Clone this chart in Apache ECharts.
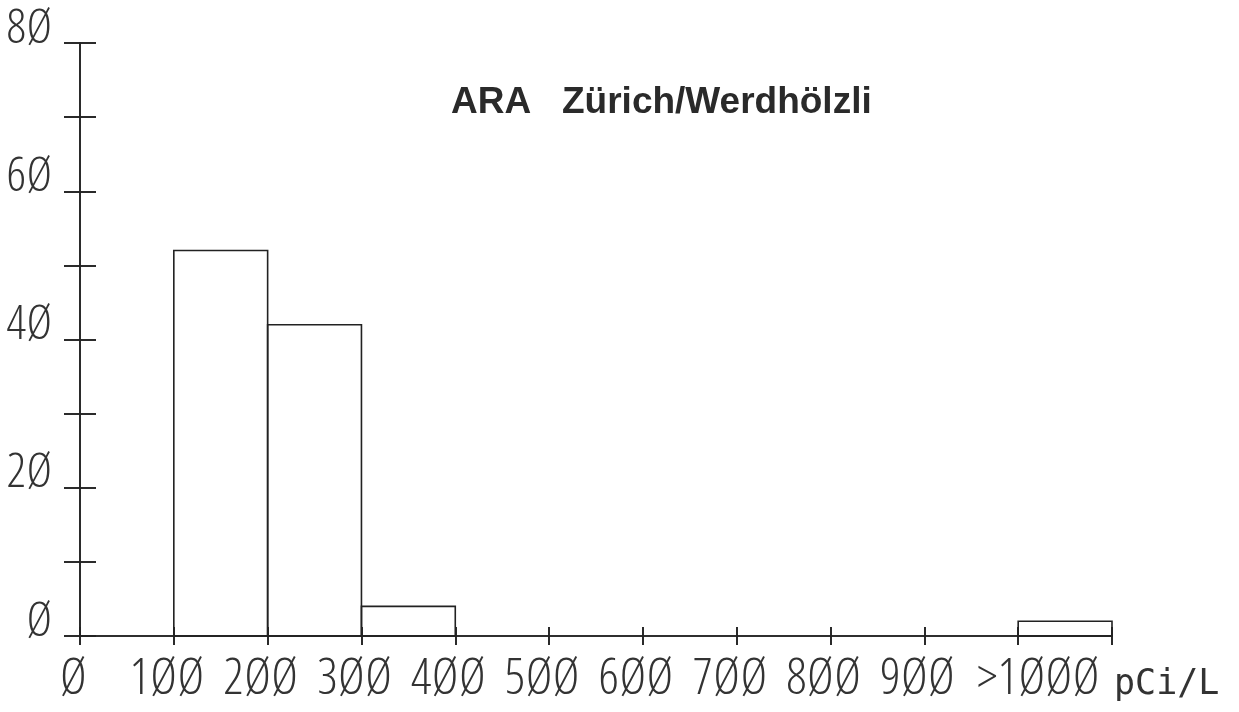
<!DOCTYPE html>
<html><head><meta charset="utf-8">
<script src="https://cdn.jsdelivr.net/npm/echarts@6/dist/echarts.min.js"></script>
<style>html,body{margin:0;padding:0;background:#fff}#c{width:1239px;height:712px}</style>
</head><body><div id="c"></div>
<script>
const binStarts = [0, 100, 200, 300, 400, 500, 600, 700, 800, 900, 1000];
const binEnds   = [100, 200, 300, 400, 500, 600, 700, 800, 900, 1000, 1100];
const counts    = [0, 52, 42, 4, 0, 0, 0, 0, 0, 0, 2];
const xTickLabels = ["Ø", "1ØØ", "2ØØ", "3ØØ", "4ØØ", "5ØØ", "6ØØ", "7ØØ", "8ØØ", "9ØØ", ">1ØØØ", ""];
const yTickLabels = ["Ø", "", "2Ø", "", "4Ø", "", "6Ø", "", "8Ø"];
const titleText = "ARA   Zürich/Werdhölzli";
const unitLabel = "pCi/L";

const ink = '#222';
const txt = '#333';
const labelFont = "'Open Sans', 'Noto Sans', sans-serif";
const labelWeight = "300 condensed";
const X_MIN = 0, X_MAX = 1100, X_STEP = 100;
const Y_MIN = 0, Y_MAX = 80, Y_STEP = 10;

function xAx(pos, inside, withLabels) {
  const a = {
    type: 'value', position: pos, min: X_MIN, max: X_MAX, interval: X_STEP,
    splitLine: { show: false },
    axisLine: { show: !inside, lineStyle: { color: ink, width: 1.6 } },
    axisTick: { show: true, inside: inside, length: 9, lineStyle: { color: ink, width: 1.6 } },
    axisLabel: { show: false }
  };
  if (withLabels) {
    const rs = { fontFamily: labelFont, fontWeight: labelWeight, fontSize: 50, color: txt, lineHeight: 48 };
    a.axisLabel = {
      show: true, margin: 20, color: txt, fontFamily: labelFont, fontWeight: labelWeight, fontSize: 50, lineHeight: 48,
      formatter: v => {
        const s = xTickLabels[Math.round(v / X_STEP)] || '';
        if (!s) return '';
        return s.charAt(0) === '>' ? '{b|' + s + '}' : '{a|' + s + '}';
      },
      rich: {
        a: Object.assign({}, rs, { padding: [0, 14, 0, 0] }),
        b: Object.assign({}, rs, { padding: [0, 0, 0, 40] })
      }
    };
    a.name = unitLabel;
    a.nameLocation = 'end';
    a.nameGap = 2;
    a.nameTextStyle = { fontFamily: "'DejaVu Sans Mono', monospace", fontWeight: 'normal', fontSize: 35, color: txt, align: 'left', verticalAlign: 'top', padding: [31, 0, 0, 0] };
  }
  return a;
}
function yAx(pos, inside, withLabels) {
  const a = {
    type: 'value', position: pos, min: Y_MIN, max: Y_MAX, interval: Y_STEP,
    splitLine: { show: false },
    axisLine: { show: !inside, lineStyle: { color: ink, width: 1.6 } },
    axisTick: { show: true, inside: inside, length: 16, lineStyle: { color: ink, width: 1.6 } },
    axisLabel: { show: false }
  };
  if (withLabels) {
    a.axisLabel = {
      show: true, margin: 28, color: txt, fontFamily: labelFont, fontWeight: labelWeight, fontSize: 48,
      verticalAlign: 'bottom', lineHeight: 28,
      formatter: v => yTickLabels[Math.round(v / Y_STEP)] || ''
    };
  }
  return a;
}

const chart = echarts.init(document.getElementById('c'), null, { renderer: 'canvas' });
chart.setOption({
  backgroundColor: '#fff',
  animation: false,
  title: {
    text: titleText, left: 446, top: 79,
    textStyle: { fontFamily: "'Liberation Sans', Arial, sans-serif", fontWeight: 'bold', fontSize: 37, color: '#2a2a2a' }
  },
  grid: { left: 80, right: 127, top: 43, bottom: 76, containLabel: false, outerBoundsMode: 'none' },
  xAxis: [xAx('bottom', false, true), xAx('bottom', true, false), xAx('top', false, false), xAx('top', true, false)],
  yAxis: [yAx('left', false, true), yAx('left', true, false), yAx('right', false, false), yAx('right', true, false)],
  series: [{
    type: 'custom',
    xAxisIndex: 0, yAxisIndex: 0,
    data: binStarts.map((s, i) => [s, binEnds[i], counts[i]]),
    renderItem: (params, api) => {
      const c = api.value(2);
      if (!c) return null;
      const p0 = api.coord([api.value(0), 0]);
      const p1 = api.coord([api.value(1), c]);
      return {
        type: 'rect',
        shape: { x: p0[0], y: p1[1], width: p1[0] - p0[0], height: p0[1] - p1[1] },
        style: { fill: 'none', stroke: ink, lineWidth: 1.6 }
      };
    }
  }]
});
</script></body></html>
